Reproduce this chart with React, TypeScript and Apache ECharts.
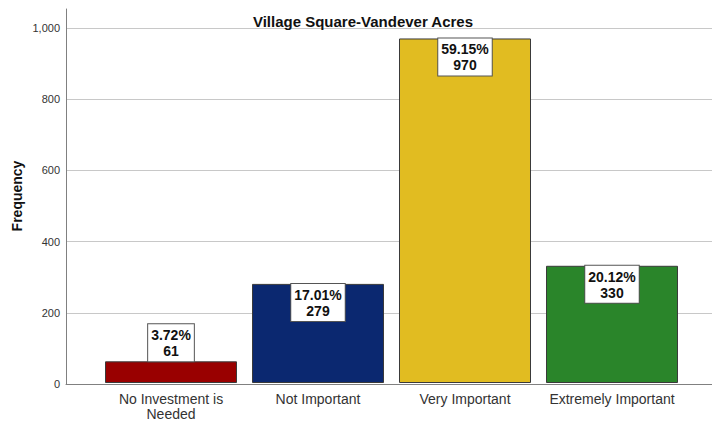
import React, { useEffect, useRef } from "react";
import * as echarts from "echarts";

const categories = ["No Investment is\nNeeded", "Not Important", "Very Important", "Extremely Important"];
const frequencies = [61, 279, 970, 330];
const percents = ["3.72%", "17.01%", "59.15%", "20.12%"];
const barColors = ["#990000", "#0b2870", "#e1bc21", "#2a852a"];
const yTicks = [0, 200, 400, 600, 800, 1000];

const FONT = "'Liberation Sans', Arial, sans-serif";

export default function App() {
  const ref = useRef<HTMLDivElement>(null);
  useEffect(() => {
    if (!ref.current) return;
    const chart = echarts.init(ref.current, undefined, { renderer: "svg" });
    const yMax = 1053;
    chart.setOption({
      animation: false,
      backgroundColor: "#ffffff",
      title: {
        text: "Village Square-Vandever Acres",
        left: 358,
        top: 9,
        textAlign: "center",
        textStyle: { fontFamily: FONT, fontSize: 15, fontWeight: "bold", color: "#111" },
      },
      grid: [
        { left: 66, right: 0, top: 9, bottom: 37 },
        { left: 97.5, right: 26.5, top: 9, bottom: 37 },
      ],
      xAxis: [
        {
          gridIndex: 0,
          type: "category",
          data: [""],
          axisLine: { show: true, lineStyle: { color: "#808080", width: 1 } },
          axisTick: { show: false },
          axisLabel: { show: false },
        },
        {
          gridIndex: 1,
          type: "category",
          data: categories,
          axisLine: { show: false },
          axisTick: { show: false },
          axisLabel: {
            margin: 8,
            fontFamily: FONT,
            fontSize: 14,
            lineHeight: 15,
            color: "#333",
            interval: 0,
          },
        },
      ],
      yAxis: [
        {
          gridIndex: 0,
          type: "value",
          min: 0,
          max: yMax,
          interval: 200,
          axisLine: { show: true, lineStyle: { color: "#808080", width: 1 } },
          axisTick: { show: false },
          splitLine: { show: true, showMaxLine: false, lineStyle: { color: "#c8c8c8", width: 1 } },
          axisLabel: {
            margin: 6,
            fontFamily: FONT,
            fontSize: 11,
            color: "#333",
            formatter: (v: number) => (yTicks.includes(v) ? v.toLocaleString("en-US") : ""),
          },
        },
        {
          gridIndex: 1,
          type: "value",
          min: 0,
          max: yMax,
          show: false,
          splitLine: { show: false },
        },
      ],
      graphic: [
        {
          type: "text",
          x: 17,
          y: 196,
          rotation: Math.PI / 2,
          style: {
            text: "Frequency",
            font: `bold 14px ${FONT}`,
            fill: "#111",
            textAlign: "center",
            textVerticalAlign: "middle",
          },
        },
      ],
      series: [
        {
          type: "bar",
          xAxisIndex: 1,
          yAxisIndex: 1,
          barWidth: 132,
          data: frequencies.map((v, i) => ({
            value: v,
            itemStyle: { color: barColors[i], borderColor: "#3a3a3a", borderWidth: 1 },
            label: {
              show: true,
              position: v < 150 ? "top" : "insideTop",
              distance: 0,
              formatter: () => `${percents[i]}\n${v}`,
              fontFamily: FONT,
              fontSize: 14,
              fontWeight: "bold",
              lineHeight: 16,
              color: "#111",
              backgroundColor: "#ffffff",
              borderColor: "#555",
              borderWidth: 1,
              padding: [3, 3, 2, 3],
              align: "center",
            },
          })),
        },
      ],
    });
    return () => chart.dispose();
  }, []);
  return <div ref={ref} style={{ width: 712, height: 421, position: "absolute", left: 0, top: 0 }} />;
}
